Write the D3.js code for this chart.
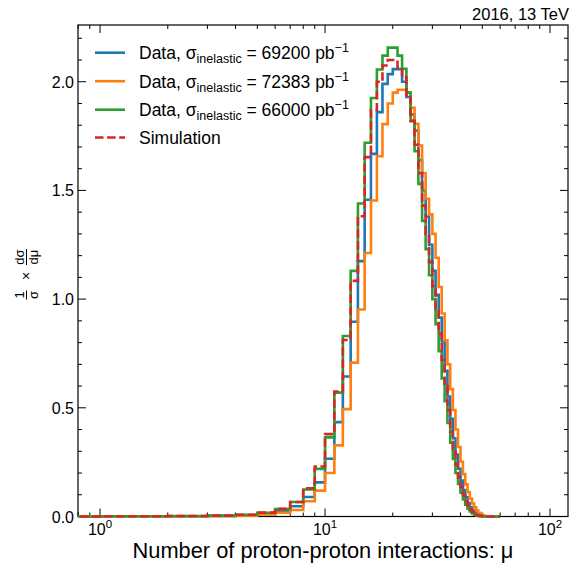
<!DOCTYPE html>
<html>
<head>
<meta charset="utf-8">
<script src="https://cdn.jsdelivr.net/npm/d3@7"></script>
<style>
  html, body { margin: 0; padding: 0; background: #fff; }
  svg { display: block; font-family: "Liberation Sans", Arial, Helvetica, sans-serif; }
</style>
</head>
<body>
<svg id="chart" width="570" height="567"></svg>
<script>
// Bin lower edges (integer pileup values); each bin is one unit wide.
const binEdges = [0,1,2,3,4,5,6,7,8,9,10,11,12,13,14,15,16,17,18,19,20,21,22,23,24,25,26,27,28,29,
  30,31,32,33,34,35,36,37,38,39,40,41,42,43,44,45,46,47,48,49,50,51,52,53,54,55,56,57,58,59,60];

// Normalised distributions per bin
const data69200 = [0,0.001,0.001,0.003,0.006,0.012,0.025,0.047,0.090,0.157,0.266,0.434,0.644,0.896,1.175,1.457,1.668,1.860,1.990,2.035,
  2.058,2.058,2.000,1.930,1.850,1.775,1.640,1.500,1.380,1.250,1.130,1.020,0.915,0.805,0.670,0.552,0.450,0.360,0.285,0.220,
  0.165,0.122,0.088,0.062,0.042,0.027,0.017,0.010,0.005,0.003,0.001,0,0,0,0,0,0,0,0,0];
const data72383 = [0,0,0.001,0.002,0.004,0.009,0.017,0.030,0.070,0.119,0.200,0.327,0.494,0.708,0.952,1.212,1.454,1.657,1.805,1.900,
  1.950,1.963,1.963,1.950,1.880,1.806,1.706,1.580,1.462,1.390,1.300,1.190,1.056,0.934,0.810,0.700,0.586,0.490,0.400,0.320,
  0.252,0.195,0.148,0.112,0.083,0.060,0.042,0.028,0.017,0.010,0.005,0.002,0.001,0,0,0,0,0,0,0];
const data66000 = [0,0.001,0.002,0.004,0.008,0.017,0.034,0.067,0.124,0.219,0.364,0.570,0.830,1.130,1.440,1.719,1.925,2.056,2.120,2.157,
  2.157,2.120,2.060,1.950,1.820,1.680,1.530,1.360,1.230,1.110,1.000,0.885,0.760,0.635,0.530,0.430,0.340,0.265,0.200,0.150,
  0.110,0.078,0.054,0.036,0.023,0.014,0.008,0.004,0.002,0.001,0,0,0,0,0,0,0,0,0,0];
const simulation = [0,0.001,0.002,0.004,0.008,0.018,0.035,0.067,0.130,0.230,0.379,0.575,0.812,1.084,1.381,1.653,1.870,2.000,2.075,2.100,
  2.100,2.065,2.020,1.930,1.820,1.710,1.580,1.430,1.300,1.170,1.060,0.955,0.840,0.720,0.600,0.490,0.390,0.310,0.240,0.180,
  0.135,0.098,0.070,0.048,0.032,0.020,0.012,0.007,0.004,0.002,0.001,0,0,0,0,0,0,0,0,0];

const seriesNames = ["69200", "72383", "66000", "Simulation"];
const seriesColors = ["#1f77b4", "#ff7f0e", "#2ca02c", "#d62728"];

const yMajorTicks = [0, 0.5, 1.0, 1.5, 2.0];
const xMajorTicks = [1, 10, 100];
const xTickExponents = ["0", "1", "2"];

const svg = d3.select("#chart");
const L = 78, R = 568, T = 25, B = 516.5;

const x = d3.scaleLog().domain([0.798, 120.2]).range([L, R]);
const y = d3.scaleLinear().domain([0, 2.261]).range([B, T]);

svg.append("defs").append("clipPath").attr("id", "plotclip")
  .append("rect").attr("x", L).attr("y", 0).attr("width", R - L).attr("height", 530);

const xe = e => e <= 0 ? L - 10 : x(e);

function stepPath(vals) {
  const pts = vals.map((v, i) => [xe(binEdges[i]), y(v)]);
  pts.push([xe(binEdges[vals.length]), y(vals[vals.length - 1])]);
  return d3.line().curve(d3.curveStepAfter)(pts);
}

// frame
svg.append("rect").attr("x", L).attr("y", T).attr("width", R - L).attr("height", B - T)
  .attr("fill", "none").attr("stroke", "#000").attr("stroke-width", 1.2);

const tickG = svg.append("g").attr("stroke", "#000").attr("stroke-width", 1);
// x ticks (inward, top and bottom)
x.ticks().forEach(t => {
  const major = xMajorTicks.includes(t);
  const len = major ? 8 : 4;
  const px = x(t);
  tickG.append("line").attr("x1", px).attr("x2", px).attr("y1", B).attr("y2", B - len);
  tickG.append("line").attr("x1", px).attr("x2", px).attr("y1", T).attr("y2", T + len);
});
// y ticks (inward, left and right)
d3.range(0, 23).map(i => i / 10).forEach(t => {
  const major = yMajorTicks.some(m => Math.abs(m - t) < 1e-9);
  const len = major ? 8 : 4;
  const py = y(t);
  tickG.append("line").attr("x1", L).attr("x2", L + len).attr("y1", py).attr("y2", py);
  tickG.append("line").attr("x1", R).attr("x2", R - len).attr("y1", py).attr("y2", py);
});

// y tick labels
yMajorTicks.forEach(t => {
  svg.append("text").attr("x", 74).attr("y", y(t) + 6).attr("text-anchor", "end")
    .attr("font-size", 16).attr("fill", "#000").text(t.toFixed(1));
});
// x tick labels 10^n
xMajorTicks.forEach((t, i) => {
  const tx = svg.append("text").attr("x", x(t)).attr("y", 534.5).attr("text-anchor", "middle")
    .attr("font-size", 16).attr("fill", "#000");
  tx.append("tspan").text("10");
  tx.append("tspan").attr("dy", -6.5).attr("font-size", 11.5).text(xTickExponents[i]);
});

// histograms
const allSeries = [data69200, data72383, data66000, simulation];
const histG = svg.append("g").attr("clip-path", "url(#plotclip)");
allSeries.forEach((vals, i) => {
  histG.append("path").attr("d", stepPath(vals)).attr("fill", "none")
    .attr("stroke", seriesColors[i]).attr("stroke-width", 2.6)
    .attr("stroke-dasharray", i === 3 ? "8.5,3.6" : null);
});

// axis label
svg.append("text").attr("x", (L + R) / 2).attr("y", 558).attr("text-anchor", "middle")
  .attr("font-size", 21.8).attr("fill", "#000").text("Number of proton-proton interactions: μ");

// y label: 1/σ × dσ/dμ, rotated
const yl = svg.append("g").attr("transform", "translate(26.5,276) rotate(-90)");
function frac(g, cx, num, den) {
  g.append("text").attr("x", cx).attr("y", -3).attr("text-anchor", "middle").attr("font-size", 13).text(num);
  g.append("text").attr("x", cx).attr("y", 11.5).attr("text-anchor", "middle").attr("font-size", 13).text(den);
  const w = num.length > 1 ? 16 : 9;
  g.append("line").attr("x1", cx - w / 2).attr("x2", cx + w / 2).attr("y1", 0).attr("y2", 0)
    .attr("stroke", "#000").attr("stroke-width", 1);
}
frac(yl, -19, "1", "σ");
yl.append("text").attr("x", 0).attr("y", 4.5).attr("text-anchor", "middle").attr("font-size", 14).text("×");
frac(yl, 19, "dσ", "dμ");

// top-right annotation
svg.append("text").attr("x", 569).attr("y", 20).attr("text-anchor", "end")
  .attr("font-size", 16.5).attr("fill", "#000").text("2016, 13 TeV");

// legend
const legendY = [52.7, 81.2, 109.7, 137.5];
seriesNames.forEach((name, i) => {
  const ly = legendY[i];
  svg.append("line").attr("x1", 95).attr("x2", 125).attr("y1", ly).attr("y2", ly)
    .attr("stroke", seriesColors[i]).attr("stroke-width", 2.6)
    .attr("stroke-dasharray", i === 3 ? "8.5,3.6" : null);
  const t = svg.append("text").attr("x", 139).attr("y", ly + 6.3).attr("font-size", 17.5).attr("fill", "#000");
  if (name === "Simulation") {
    t.text("Simulation");
  } else {
    t.append("tspan").text("Data, σ");
    t.append("tspan").attr("font-size", 12.5).attr("dy", 4).text("inelastic");
    t.append("tspan").attr("dy", -4).text(" = " + name + " pb");
    t.append("tspan").attr("font-size", 12.5).attr("dy", -7).text("−1");
  }
});
</script>
</body>
</html>
